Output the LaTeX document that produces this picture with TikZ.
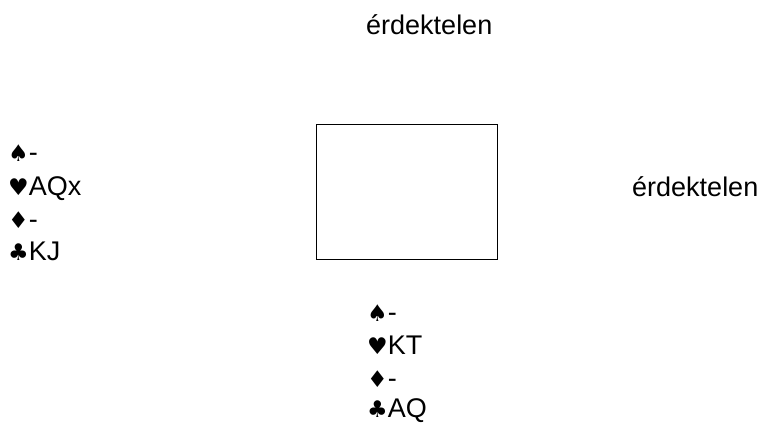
\documentclass[tikz,border=0pt]{standalone}
\usepackage{fontspec}
\setmainfont{Liberation Sans}
\newfontfamily\suitfont{DejaVu Sans}
\tikzset{
  txt/.style={inner sep=0pt, font=\fontsize{27}{32}\selectfont, anchor=base west},
  board/.style={draw, line width=1.3pt}
}
\newcommand{\suit}[1]{{\suitfont\fontsize{23}{27}\selectfont #1}}
\begin{document}
\begin{tikzpicture}[x=1pt,y=-1pt]
\useasboundingbox (0,0) rectangle (762,424);
\node[board, minimum width=181pt, minimum height=135pt, anchor=north west] (box) at (316,124) {};
\node[txt] (north) at (366,34) {érdektelen};
\node[txt] (east) at (632,196) {érdektelen};
\node[txt] (w1) at (8,161) {\suit{♠}-};
\node[txt] (w2) at (8,195) {\suit{♥}AQx};
\node[txt] (w3) at (8,228) {\suit{♦}-};
\node[txt] (w4) at (8,260) {\suit{♣}KJ};
\node[txt] (s1) at (367,321) {\suit{♠}-};
\node[txt] (s2) at (367,354) {\suit{♥}KT};
\node[txt] (s3) at (367,387) {\suit{♦}-};
\node[txt] (s4) at (367,417) {\suit{♣}AQ};
\end{tikzpicture}
\end{document}
